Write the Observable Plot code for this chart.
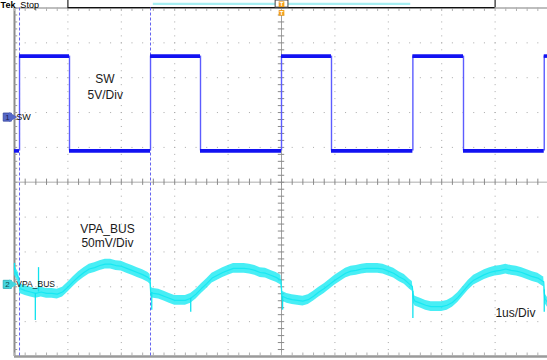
<!DOCTYPE html>
<html><head><meta charset="utf-8">
<script src="https://cdn.jsdelivr.net/npm/d3@7"></script>
<script src="https://cdn.jsdelivr.net/npm/@observablehq/plot@0.6"></script>
<style>body{margin:0;background:#fff} svg{display:block;overflow:visible}</style>
</head><body><div id="chart"></div>
<script>
// ---- axes: time in µs (1 µs/div, trigger at 0), vertical in screen divisions ----
const xDivs = [-5,-4,-3,-2,-1,0,1,2,3,4,5];
const yDivs = [-5,-4,-3,-2,-1,0,1,2,3,4,5];
const minorStep = 0.2;
const xMin = -5, xMax = 4.981;

// ---- CH1 : SW (5 V/div), levels in divisions ----
const swRise = [-4.906, -2.453, 0, 2.46, 4.92];
const swFall = [-3.97, -1.517, 0.936, 3.408];
const swHigh = 3.62;
const swLow = 0.90;
const ch1Marker = 1.87;

// ---- cursors (µs) ----
const cursorT = [-4.906, -2.453];

// ---- CH2 : VPA_BUS (50 mV/div), mV relative to CH2 marker ----
const ch2Marker = -2.93;
const vpaT = [-5.0,-4.92,-4.9,-4.8,-4.7,-4.6,-4.5,-4.4,-4.3,-4.2,-4.1,-4.0,-3.9,-3.8,-3.7,-3.6,-3.5,-3.4,-3.3,-3.2,-3.1,-3.0,-2.9,-2.8,-2.7,-2.6,-2.5,-2.46,-2.45,-2.4,-2.3,-2.2,-2.1,-2.0,-1.9,-1.8,-1.7,-1.6,-1.5,-1.4,-1.3,-1.2,-1.1,-1.0,-0.9,-0.8,-0.7,-0.6,-0.5,-0.4,-0.3,-0.2,-0.1,-0.01,0.01,0.1,0.2,0.3,0.4,0.5,0.6,0.7,0.8,0.9,1.0,1.1,1.2,1.3,1.4,1.5,1.6,1.7,1.8,1.9,2.0,2.1,2.2,2.3,2.4,2.45,2.47,2.5,2.6,2.7,2.8,2.9,3.0,3.1,3.2,3.3,3.4,3.5,3.6,3.7,3.8,3.9,4.0,4.1,4.2,4.3,4.4,4.5,4.6,4.7,4.8,4.9,4.91,4.93,4.98];
const vpaMv = [20,9,-6,-9,-11,-13,-11,-13,-13,-14,-11,-4,4,11,17,22,24,27,29,29,27,26,23,20,17,14,10,7,-11,-13,-14,-17,-20,-23,-23,-23,-20,-14,-6,1,9,13,17,20,23,23,23,22,20,17,16,13,10,6,-17,-20,-22,-23,-24,-22,-17,-11,-6,0,6,11,16,19,20,22,23,23,23,22,19,16,11,7,0,-3,-20,-24,-27,-30,-32,-32,-32,-30,-26,-19,-10,-1,6,10,14,17,19,20,22,20,19,17,14,11,9,4,4,-20,-26];
const vpaNoise = 7; // mV half peak-to-peak of the noise band
const spikeT = [-5.0,-4.61,-4.55,-2.43,-1.70,0.02,2.46,4.92];
const spikeBaseMv = [20,-13,-11,-12,-20,-18,-10,-8];
const spikeMv = [30,-52,24,-37,-40,-37,-49,-40];

// ---- texts ----
const annotations = [
  {t: -3.305, d: 2.84, text: "SW"},
  {t: -3.30, d: 2.38, text: "5V/Div"},
  {t: -3.26, d: -1.46, text: "VPA_BUS"},
  {t: -3.26, d: -1.87, text: "50mV/Div"},
  {t: 4.38, d: -3.87, text: "1us/Div"}
];

// ---------------------------------------------------------------
const W = 547, H = 360, mL = 14, mR = 0, mT = 7.5, mB = 4;
const pxPerDivY = (H - mT - mB) / 10;
const pxPerDivX = (W - mL - mR) / (xMax - xMin);
const minorPxY = pxPerDivY * minorStep, minorPxX = pxPerDivX * minorStep;
const xMinor = d3.range(-5, 5.0001, minorStep).map(v => +v.toFixed(2)).filter(v => v <= xMax);
const yMinor = d3.range(-5, 5.0001, minorStep).map(v => +v.toFixed(2));

const ch2 = mv => ch2Marker + mv / 50;
const vpa = vpaT.map((t, i) => ({t, mv: vpaMv[i]}));
const spikes = spikeT.map((t, i) => ({t, a: spikeBaseMv[i], b: spikeMv[i]}));
const swHighSeg = swRise.map((r, i) => ({x1: r, x2: i < swFall.length ? swFall[i] : xMax}));
const swLowSeg = [{x1: xMin, x2: swRise[0]}, ...swFall.map((f, i) => ({x1: f, x2: swRise[i + 1]}))];
const innerX = xDivs.filter(d => d !== 0 && d !== -5 && d !== 5);
const innerY = yDivs.filter(d => d !== 0 && d !== -5 && d !== 5);
const topY = (H - mB - (H - mB - mT) / 2) / pxPerDivY; // picture top edge, in divisions

const chart = Plot.plot({
  width: W, height: H,
  marginLeft: mL, marginRight: mR, marginTop: mT, marginBottom: mB,
  x: {domain: [xMin, xMax], axis: null},
  y: {domain: [-5, 5], axis: null},
  style: {background: "#fff", fontFamily: "Liberation Sans, Arial, sans-serif", overflow: "visible"},
  marks: [
    // dotted graticule
    Plot.ruleX(innerX, {stroke: "#a8a8a8", strokeWidth: 1, strokeDasharray: `1,${(minorPxY - 1).toFixed(3)}`}),
    Plot.ruleY(innerY, {stroke: "#a8a8a8", strokeWidth: 1, strokeDasharray: `1,${(minorPxX - 1).toFixed(3)}`}),
    // center lines
    Plot.ruleY([0], {stroke: "#c8c8c8", strokeWidth: 1.6}),
    Plot.ruleX([0], {stroke: "#a0a0a0", strokeWidth: 1}),
    Plot.ruleX(xMinor, {x: d => d, y1: -0.09, y2: 0.09, stroke: "#8a8a8a", strokeWidth: 1}),
    Plot.ruleY(yMinor, {y: d => d, x1: -0.06, x2: 0.06, stroke: "#8a8a8a", strokeWidth: 1}),
    // border
    Plot.ruleX([-5], {stroke: "#8c8c8c", strokeWidth: 2}),
    Plot.ruleY([5], {stroke: "#a8a8a8", strokeWidth: 1.5}),
    Plot.ruleY([-5], {stroke: "#9a9a9a", strokeWidth: 2.5}),
    Plot.ruleY(yMinor, {y: d => d, x1: -5, x2: -4.94, stroke: "#9a9a9a", strokeWidth: 1}),
    Plot.ruleX(xMinor, {x: d => d, y1: 5, y2: 4.9, stroke: "#b0b0b0", strokeWidth: 1}),
    Plot.ruleX(xMinor, {x: d => d, y1: -5, y2: -4.9, stroke: "#b0b0b0", strokeWidth: 1}),
    // record bar on top
    Plot.ruleY([5.01], {x1: -4, x2: 4, stroke: "#111", strokeWidth: 1.4}),
    Plot.ruleX([-4, 4], {y1: 5.01, y2: topY, stroke: "#222", strokeWidth: 1.2}),
    Plot.ruleY([5.12], {x1: -2.40, x2: 2.42, stroke: "#a6eef2", strokeWidth: 2.2}),
    Plot.rect([0], {x1: -0.11, x2: 0.13, y1: 5.01, y2: topY, fill: "#fff", stroke: "#444", strokeWidth: 1}),
    Plot.dot([5.11, 4.86], {x: 0, y: d => d, symbol: "square", r: 3.2, fill: "#f3a01c"}),
    Plot.text([5.11, 4.86], {x: 0, y: d => d, text: () => "T", fill: "#fff", fontSize: 6, fontWeight: "bold"}),
    // cursors
    Plot.ruleX(cursorT, {stroke: "#6464f0", strokeWidth: 1, strokeDasharray: "3,2"}),
    // CH2 VPA_BUS
    Plot.areaY(vpa, {x: "t", y1: d => ch2(d.mv - vpaNoise), y2: d => ch2(d.mv + vpaNoise), fill: "#1aeaf2", fillOpacity: 0.8}),
    Plot.line(vpa, {x: "t", y: d => ch2(d.mv), stroke: "#18e8f2", strokeWidth: 1.2}),
    Plot.ruleX(spikes, {x: "t", y1: d => ch2(d.a), y2: d => ch2(d.b), stroke: "#10e2ee", strokeWidth: 1.3}),
    // CH1 SW
    Plot.ruleX([...swRise, ...swFall], {y1: swLow, y2: swHigh, stroke: "#5c5cff", strokeWidth: 1.4}),
    Plot.ruleY(swHighSeg, {x1: "x1", x2: "x2", y: swHigh, stroke: "#1212f2", strokeWidth: 3.6}),
    Plot.ruleY(swLowSeg, {x1: "x1", x2: "x2", y: swLow, stroke: "#1212f2", strokeWidth: 3.6}),
    // channel markers
    Plot.dot([ch1Marker], {x: -5.135, y: d => d, symbol: "square", r: 4.6, fill: "#5668c8", stroke: "#33449c", strokeWidth: 0.8}),
    Plot.dot([ch1Marker], {x: -5.05, y: d => d, symbol: "triangle", rotate: 90, r: 3.6, fill: "#5668c8"}),
    Plot.text([ch1Marker], {x: -5.13, y: d => d, text: () => "1", fill: "#1a2050", fontSize: 8}),
    Plot.text([ch1Marker], {x: -4.965, y: d => d, text: () => "SW", textAnchor: "start", fill: "#111", fontSize: 9}),
    Plot.dot([ch2Marker], {x: -5.135, y: d => d, symbol: "square", r: 4.6, fill: "#44d6de", stroke: "#22aab2", strokeWidth: 0.8}),
    Plot.dot([ch2Marker], {x: -5.05, y: d => d, symbol: "triangle", rotate: 90, r: 3.6, fill: "#44d6de"}),
    Plot.text([ch2Marker], {x: -5.13, y: d => d, text: () => "2", fill: "#0d4a50", fontSize: 8}),
    Plot.text([ch2Marker], {x: -4.965, y: d => d, text: () => "VPA_BUS", textAnchor: "start", fill: "#111", fontSize: 8.5}),
    // annotations
    Plot.text(annotations, {x: "t", y: "d", text: "text", fontSize: 12, fill: "#1a1a1a", lineAnchor: "bottom"}),
    // Tek Stop
    Plot.text(["Tek"], {x: -5.26, y: 4.99, text: d => d, textAnchor: "start", lineAnchor: "bottom", fontSize: 9, fontWeight: "bold", fill: "#000"}),
    Plot.text(["Stop"], {x: -4.89, y: 4.99, text: d => d, textAnchor: "start", lineAnchor: "bottom", fontSize: 9, fill: "#000"})
  ]
});
document.getElementById("chart").appendChild(chart);
</script>
</body></html>
